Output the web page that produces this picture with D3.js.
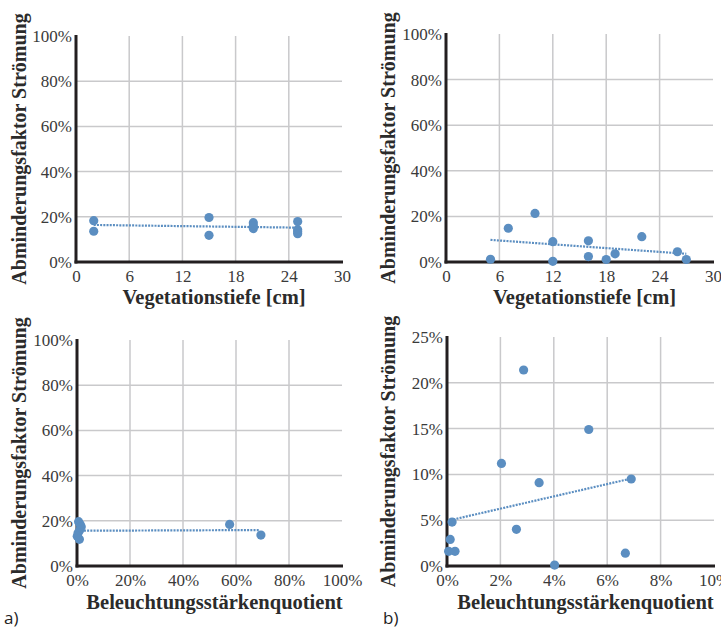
<!DOCTYPE html>
<html><head><meta charset="utf-8">
<script src="https://cdn.jsdelivr.net/npm/d3@7"></script>
<style>
html,body{margin:0;padding:0;background:#fff;}
svg{display:block;}
</style></head>
<body>
<svg id="chart" width="721" height="635"></svg>
<script>
// ---- Data ----
// Panel a) top: Vegetationstiefe [cm] vs Abminderungsfaktor (%)
const vegA_x = [2, 2, 15, 15, 20, 20, 20, 25, 25, 25, 25];
const vegA_y = [18.3, 13.6, 19.7, 11.8, 17.4, 14.8, 16.0, 17.9, 14.3, 13.4, 12.5];
const vegA_trend = [[2, 16.4], [25, 15.2]];

// Panel b) top
const vegB_x = [5, 7, 10, 12, 12, 16, 16, 18, 19, 22, 26, 27];
const vegB_y = [1.2, 14.8, 21.3, 8.9, 0.3, 9.3, 2.4, 1.1, 3.6, 11.1, 4.5, 1.1];
const vegB_trend = [[5, 9.7], [27, 3.6]];

// Panel a) bottom: Beleuchtungsstärkenquotient (%) vs Abminderungsfaktor (%)
const luxA_x = [0.6, 1.2, 1.6, 1.0, 0.4, 0.1, 0.9, 57.6, 69.4];
const luxA_y = [19.6, 18.4, 17.4, 15.8, 14.6, 13.2, 11.8, 18.4, 13.7];
const luxA_trend = [[0.2, 15.6], [68.8, 15.9]];

// Panel b) bottom
const luxB_x = [2.87, 5.31, 2.04, 3.45, 6.9, 0.19, 2.6, 0.12, 0.06, 0.3, 6.68, 4.03];
const luxB_y = [21.4, 14.9, 11.2, 9.1, 9.5, 4.8, 4.0, 2.9, 1.6, 1.6, 1.4, 0.1];
const luxB_trend = [[0.12, 5.0], [6.83, 9.5]];

// Tick labels
const vegTicks = [0, 6, 12, 18, 24, 30];
const pct100Ticks = [0, 20, 40, 60, 80, 100];
const pct25Ticks = [0, 5, 10, 15, 20, 25];
const pct10Ticks = [0, 2, 4, 6, 8, 10];

const yTitle = "Abminderungsfaktor Strömung";
const xTitleVeg = "Vegetationstiefe [cm]";
const xTitleLux = "Beleuchtungsstärkenquotient";
const panelLabels = ["a)", "b)"];

// ---- Drawing ----
const svg = d3.select("#chart");
const dotColor = "#5b8ec1";
const gridColor = "#c9c9cb";
const serif = '"Liberation Serif"';

function panel(cfg) {
  const x = d3.scaleLinear().domain([cfg.xTicks[0], cfg.xTicks[cfg.xTicks.length-1]]).range([cfg.x0, cfg.x1]);
  const y = d3.scaleLinear().domain([cfg.yTicks[0], cfg.yTicks[cfg.yTicks.length-1]]).range([cfg.y0, cfg.y1]);
  const g = svg.append("g");

  // grid
  g.append("g").selectAll("line").data(cfg.xTicks.slice(1, -1)).join("line")
    .attr("x1", d => x(d)).attr("x2", d => x(d))
    .attr("y1", cfg.y0).attr("y2", cfg.y1)
    .attr("stroke", gridColor).attr("stroke-width", 1.5);
  g.append("g").selectAll("line").data(cfg.yTicks.slice(1, -1)).join("line")
    .attr("y1", d => y(d)).attr("y2", d => y(d))
    .attr("x1", cfg.x0).attr("x2", cfg.x1)
    .attr("stroke", gridColor).attr("stroke-width", 1.5);

  // axes
  const fmtX = cfg.xPct ? (d => d + "%") : (d => d);
  const xAxis = d3.axisBottom(x).tickValues(cfg.xTicks).tickFormat(fmtX).tickSize(0).tickPadding(6);
  const yAxis = d3.axisLeft(y).tickValues(cfg.yTicks).tickFormat(d => d + "%").tickSize(0).tickPadding(4);

  const gx = g.append("g").attr("transform", `translate(0,${cfg.y0})`).call(xAxis);
  const gy = g.append("g").attr("transform", `translate(${cfg.x0},0)`).call(yAxis);
  [gx, gy].forEach(a => {
    a.attr("font-family", serif).attr("font-size", 17);
    a.select(".domain").remove();
    a.selectAll("text").style("font-family", serif).style("font-size", "17px").attr("fill", "#3a3a3a");
  });
  gx.selectAll("text").attr("dy", "0.85em");

  // axis lines
  g.append("line").attr("x1", cfg.x0).attr("x2", cfg.x0).attr("y1", cfg.y1 - 1).attr("y2", cfg.y0 + 1.5)
    .attr("stroke", "#231f20").attr("stroke-width", 3);
  g.append("line").attr("x1", cfg.x0 - 1.5).attr("x2", cfg.x1 + 1).attr("y1", cfg.y0).attr("y2", cfg.y0)
    .attr("stroke", "#231f20").attr("stroke-width", 3);

  // trend line
  g.append("path").datum(cfg.trend)
    .attr("d", d3.line().x(d => x(d[0])).y(d => y(d[1])))
    .attr("fill", "none").attr("stroke", dotColor).attr("stroke-width", 2.2)
    .attr("stroke-dasharray", "2,1.2");

  // points
  const pts = cfg.xs.map((v, i) => [v, cfg.ys[i]]);
  g.append("g").selectAll("circle").data(pts).join("circle")
    .attr("cx", d => x(d[0])).attr("cy", d => y(d[1])).attr("r", 4.6)
    .attr("fill", dotColor);

  // titles
  g.append("text").attr("x", (cfg.x0 + cfg.x1) / 2 + 5).attr("y", cfg.xTitleY)
    .attr("text-anchor", "middle").style("font-family", serif)
    .style("font-weight", "bold").style("font-size", "20.5px").attr("fill", "#2b2b2b").text(cfg.xTitle);
  g.append("text")
    .attr("transform", `translate(${cfg.yTitleX},${(cfg.y0 + cfg.y1) / 2}) rotate(-90)`)
    .attr("text-anchor", "middle").style("font-family", serif)
    .style("font-weight", "bold").style("font-size", "20px").attr("fill", "#2b2b2b").text(yTitle);
}

panel({xs: vegA_x, ys: vegA_y, trend: vegA_trend, xTicks: vegTicks, yTicks: pct100Ticks, xPct: false,
  x0: 76, x1: 342, y0: 262, y1: 36, xTitle: xTitleVeg, xTitleY: 304, yTitleX: 26});
panel({xs: vegB_x, ys: vegB_y, trend: vegB_trend, xTicks: vegTicks, yTicks: pct100Ticks, xPct: false,
  x0: 446, x1: 713, y0: 262, y1: 34, xTitle: xTitleVeg, xTitleY: 304, yTitleX: 395});
panel({xs: luxA_x, ys: luxA_y, trend: luxA_trend, xTicks: pct100Ticks, yTicks: pct100Ticks, xPct: true,
  x0: 77, x1: 342, y0: 566, y1: 340, xTitle: xTitleLux, xTitleY: 609, yTitleX: 26});
panel({xs: luxB_x, ys: luxB_y, trend: luxB_trend, xTicks: pct10Ticks, yTicks: pct25Ticks, xPct: true,
  x0: 447, x1: 714, y0: 566, y1: 337, xTitle: xTitleLux, xTitleY: 609, yTitleX: 395});

svg.selectAll("text.plabel").data(panelLabels).join("text").attr("class", "plabel")
  .attr("x", (d, i) => i === 0 ? 4 : 383).attr("y", 624)
  .style("font-family", '"Open Sans"').style("font-size", "17px")
  .attr("fill", "#222").text(d => d);
</script>
</body></html>
